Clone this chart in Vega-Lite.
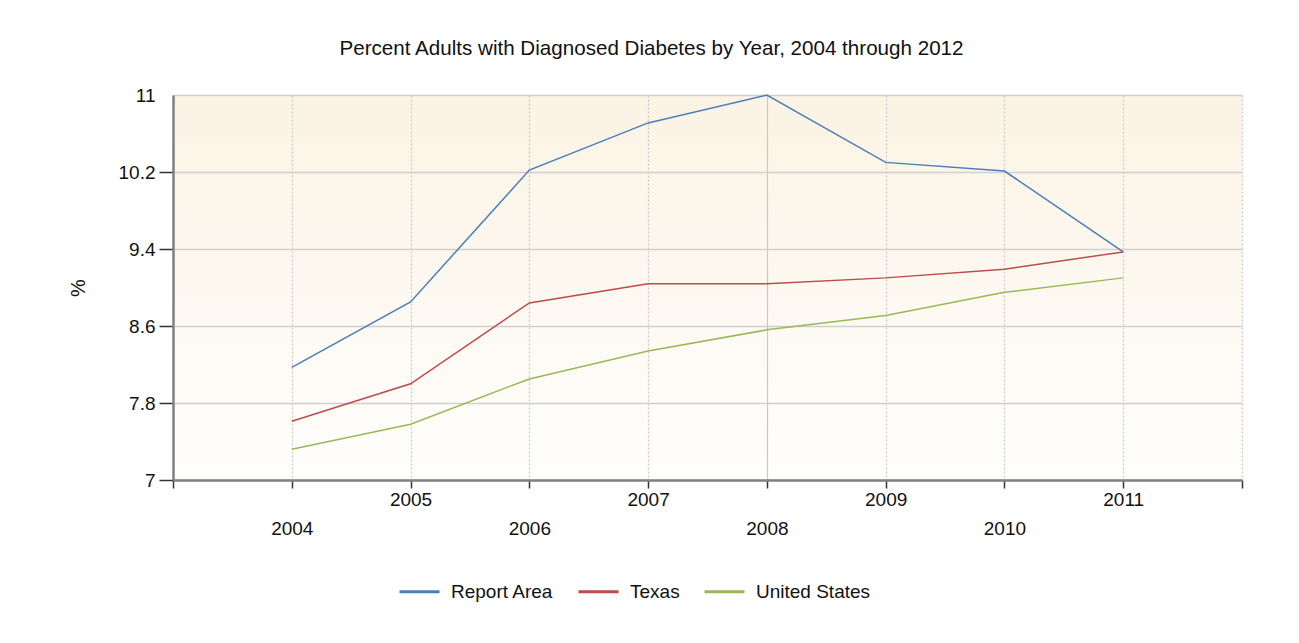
{
  "$schema": "https://vega.github.io/schema/vega-lite/v6.json",
  "width": 1069,
  "height": 385,
  "autosize": "none",
  "padding": {"left": 173, "top": 95, "right": 57, "bottom": 163},
  "background": "white",
  "config": {
    "font": "Liberation Sans",
    "view": {
      "stroke": null,
      "fill": {"gradient": "linear", "x1": 0, "y1": 0, "x2": 0, "y2": 1,
        "stops": [{"offset": 0, "color": "#fbf3e4"}, {"offset": 1, "color": "#fffefd"}]}
    }
  },
  "title": {
    "text": "Percent Adults with Diagnosed Diabetes by Year, 2004 through 2012",
    "fontSize": 20.6, "fontWeight": "normal", "color": "#111111",
    "anchor": "middle", "dx": -56, "offset": 26
  },
  "data": {
    "values": [
      {"year": 2004, "series": "Report Area", "pct": 8.17},
      {"year": 2005, "series": "Report Area", "pct": 8.85},
      {"year": 2006, "series": "Report Area", "pct": 10.22},
      {"year": 2007, "series": "Report Area", "pct": 10.71},
      {"year": 2008, "series": "Report Area", "pct": 11.0},
      {"year": 2009, "series": "Report Area", "pct": 10.30},
      {"year": 2010, "series": "Report Area", "pct": 10.21},
      {"year": 2011, "series": "Report Area", "pct": 9.37},
      {"year": 2004, "series": "Texas", "pct": 7.61},
      {"year": 2005, "series": "Texas", "pct": 8.0},
      {"year": 2006, "series": "Texas", "pct": 8.84},
      {"year": 2007, "series": "Texas", "pct": 9.04},
      {"year": 2008, "series": "Texas", "pct": 9.04},
      {"year": 2009, "series": "Texas", "pct": 9.10},
      {"year": 2010, "series": "Texas", "pct": 9.19},
      {"year": 2011, "series": "Texas", "pct": 9.37},
      {"year": 2004, "series": "United States", "pct": 7.32},
      {"year": 2005, "series": "United States", "pct": 7.58},
      {"year": 2006, "series": "United States", "pct": 8.05},
      {"year": 2007, "series": "United States", "pct": 8.34},
      {"year": 2008, "series": "United States", "pct": 8.56},
      {"year": 2009, "series": "United States", "pct": 8.71},
      {"year": 2010, "series": "United States", "pct": 8.95},
      {"year": 2011, "series": "United States", "pct": 9.10}
    ]
  },
  "mark": {"type": "line", "strokeWidth": 1.5},
  "encoding": {
    "x": {
      "field": "year", "type": "quantitative",
      "scale": {"domain": [2003, 2012], "nice": false, "zero": false},
      "axis": {
        "title": null,
        "values": [2003, 2004, 2005, 2006, 2007, 2008, 2009, 2010, 2011, 2012],
        "labelExpr": "(datum.value < 2004 || datum.value > 2011) ? '' : '' + datum.value",
        "labelFontSize": 19, "labelColor": "#111111", "labelBaseline": "top",
        "labelPadding": {"condition": {"test": "datum.value % 2 == 0", "value": 31}, "value": 2},
        "tickSize": 8, "tickColor": "#333333", "tickWidth": 1.5,
        "domainColor": "#808080", "domainWidth": 2.5,
        "grid": true, "gridColor": "#c8c8c8", "gridWidth": 1.2,
        "gridDash": {"condition": {"test": "datum.value == 2008", "value": []}, "value": [2, 2]}
      }
    },
    "y": {
      "field": "pct", "type": "quantitative",
      "scale": {"domain": [7, 11], "nice": false, "zero": false},
      "axis": {
        "title": "%", "titleFontSize": 20, "titleFontWeight": "normal", "titleColor": "#111111",
        "titlePadding": 30,
        "values": [7, 7.8, 8.6, 9.4, 10.2, 11],
        "format": "~g",
        "labelFontSize": 19, "labelColor": "#111111", "labelPadding": 4,
        "tickSize": 14, "tickColor": "#333333", "tickWidth": 1.5,
        "tickOpacity": {"condition": {"test": "datum.value == 11", "value": 0}, "value": 1},
        "domainColor": "#808080", "domainWidth": 2.5,
        "grid": true, "gridColor": "#d0d0d0", "gridWidth": 1.5
      }
    },
    "color": {
      "field": "series", "type": "nominal",
      "scale": {"domain": ["Report Area", "Texas", "United States"], "range": ["#4a7ebb", "#be4b48", "#98b954"]},
      "legend": {
        "title": null, "orient": "none", "direction": "horizontal",
        "legendX": 225, "legendY": 475,
        "symbolType": "stroke", "symbolSize": 1600, "symbolStrokeWidth": 3,
        "labelFontSize": 19, "labelColor": "#111111", "labelOffset": 10,
        "columnPadding": 18
      }
    }
  }
}
